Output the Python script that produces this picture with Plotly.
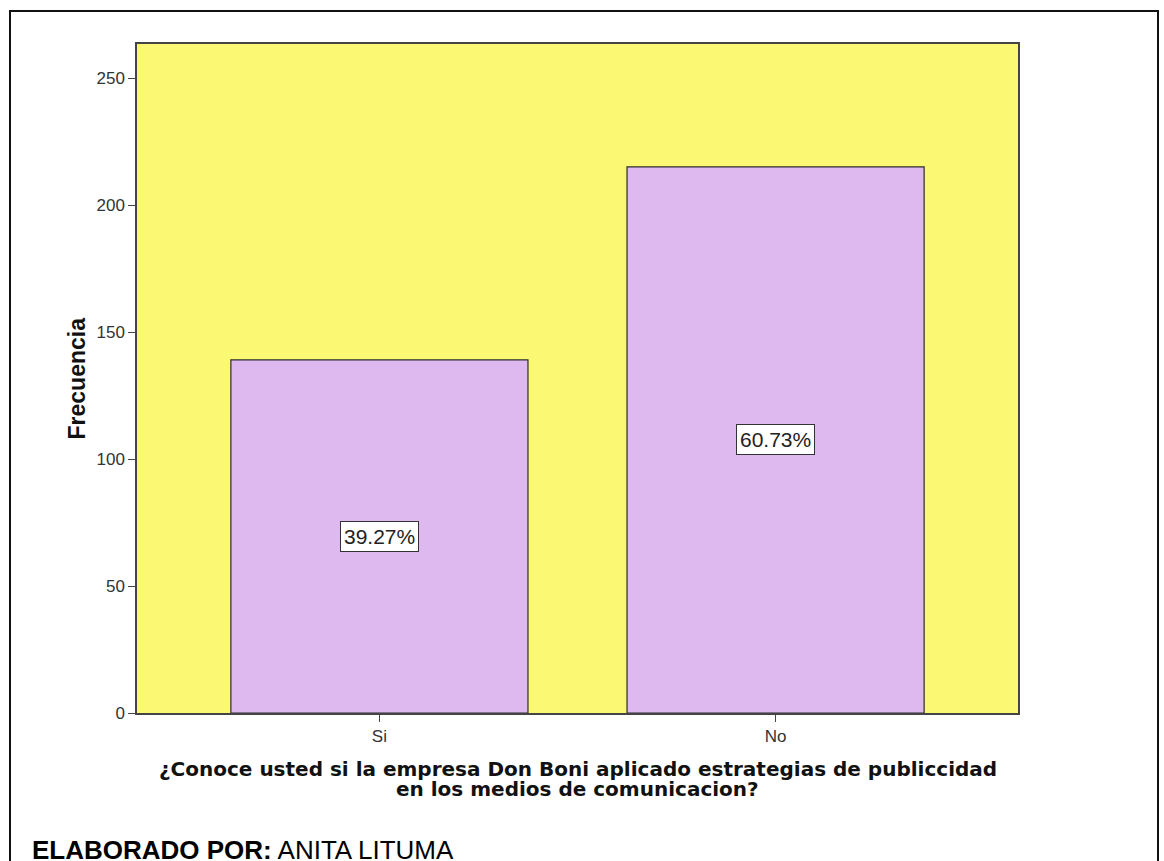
import plotly.graph_objects as go

# Survey answers and their counts
categories = ["Si", "No"]
frequencies = [139, 215]
percent_labels = ["39.27%", "60.73%"]
y_ticks = [0, 50, 100, 150, 200, 250]

W, H = 1164, 861
L, R, T, B = 137, 1018, 44, 713  # plot area in pixels


def px(x):
    return (x - L) / (R - L)


def py(y):
    return (B - y) / (B - T)


fig = go.Figure()

fig.add_trace(go.Bar(
    x=categories,
    y=frequencies,
    width=0.75,
    marker=dict(color="#DEB9F0", line=dict(color="#2b2b2b", width=1.2)),
    hoverinfo="skip",
))

annotations = []
# Percentage labels in the middle of each bar
for cat, val, lab in zip(categories, frequencies, percent_labels):
    annotations.append(dict(
        x=cat, y=val / 2, xref="x", yref="y", text=lab, showarrow=False,
        font=dict(family="Liberation Sans, Arial", size=21, color="#222222"),
        bgcolor="white", bordercolor="#333333", borderwidth=1, borderpad=3,
    ))

# Axis titles
annotations.append(dict(
    x=px(76), y=0.5, xref="paper", yref="paper", text="<b>Frecuencia</b>",
    textangle=-90, showarrow=False, xanchor="center", yanchor="middle",
    font=dict(family="Liberation Sans, Arial", size=23, color="#111111"),
))
annotations.append(dict(
    x=0.5, y=py(769), xref="paper", yref="paper",
    text="<b>¿Conoce usted si la empresa Don Boni aplicado estrategias de publiccidad</b>",
    showarrow=False, xanchor="center", yanchor="middle",
    font=dict(family="DejaVu Sans", size=20, color="#111111"),
))
annotations.append(dict(
    x=0.5, y=py(789), xref="paper", yref="paper",
    text="<b>en los medios de comunicacion?</b>",
    showarrow=False, xanchor="center", yanchor="middle",
    font=dict(family="DejaVu Sans", size=20, color="#111111"),
))
# Author credit
annotations.append(dict(
    x=px(30), y=py(861), xref="paper", yref="paper",
    text="<b>ELABORADO POR:</b> ANITA LITUMA",
    showarrow=False, xanchor="left", yanchor="bottom", yshift=-6,
    font=dict(family="Liberation Sans, Arial", size=26, color="#000000"),
))

fig.update_layout(
    width=W, height=H,
    margin=dict(l=L, r=W - R, t=T, b=H - B),
    paper_bgcolor="white",
    plot_bgcolor="#FBF874",
    showlegend=False,
    annotations=annotations,
    bargap=0.25,
    shapes=[dict(
        type="rect", xref="paper", yref="paper",
        x0=px(10), x1=px(1158), y0=py(900), y1=py(11),
        line=dict(color="#111111", width=2), fillcolor="rgba(0,0,0,0)",
        layer="above",
    )],
)

fig.update_xaxes(
    range=[-0.612, 1.612],
    showline=True, mirror=True, linecolor="#444444", linewidth=1.5,
    ticks="outside", ticklen=7, tickcolor="#444444",
    tickfont=dict(family="Liberation Sans, Arial", size=17, color="#333333"),
    showgrid=False, zeroline=False, fixedrange=True,
)
fig.update_yaxes(
    range=[0, 263.4],
    tickvals=y_ticks,
    showline=True, mirror=True, linecolor="#444444", linewidth=1.5,
    ticks="outside", ticklen=7, tickcolor="#444444",
    tickfont=dict(family="Liberation Sans, Arial", size=17, color="#333333"),
    showgrid=False, zeroline=False, fixedrange=True,
)

fig.write_html("out.html")
